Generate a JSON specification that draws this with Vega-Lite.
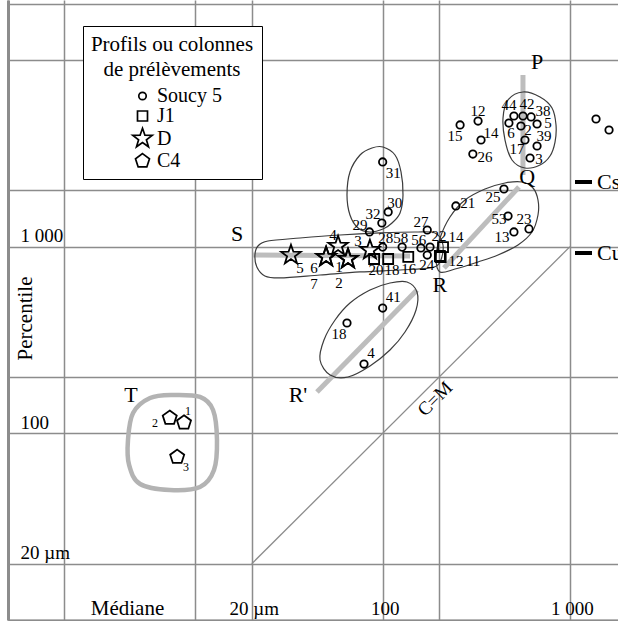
{
  "$schema": "https://vega.github.io/schema/vega-lite/v6.json",
  "width": 610,
  "height": 620,
  "autosize": {"type": "none"},
  "padding": {"left": 8, "top": 0, "right": 0, "bottom": 1},
  "background": "white",
  "config": {
    "view": {"stroke": null},
    "font": "Liberation Serif",
    "legend": {
      "padding": 8, "strokeColor": "black", "fillColor": "white",
      "titleFont": "Liberation Serif", "titleFontSize": 21, "titleFontWeight": "normal", "titleColor": "black",
      "titleAnchor": "middle", "titleAlign": "center", "titleLineHeight": 25, "titlePadding": 6,
      "labelFont": "Liberation Serif", "labelFontSize": 20, "labelColor": "black", "labelOffset": 3,
      "symbolStrokeColor": "black", "symbolFillColor": "white", "symbolStrokeWidth": 1.7, "symbolOffset": 10,
      "rowPadding": -2
    }
  },
  "datasets": {
    "pts": [
      {"profil":"Soucy 5","id":"44","x":502,"y":5012},
      {"profil":"Soucy 5","id":"42","x":561,"y":5012},
      {"profil":"Soucy 5","id":"38","x":620,"y":4955},
      {"profil":"Soucy 5","id":"6","x":472,"y":4594},
      {"profil":"Soucy 5","id":"2","x":547,"y":4430},
      {"profil":"Soucy 5","id":"5","x":667,"y":4540},
      {"profil":"Soucy 5","id":"17","x":575,"y":3727},
      {"profil":"Soucy 5","id":"39","x":667,"y":3461},
      {"profil":"Soucy 5","id":"3","x":612,"y":2985},
      {"profil":"Soucy 5","id":"12","x":323,"y":4710},
      {"profil":"Soucy 5","id":"15","x":259,"y":4487},
      {"profil":"Soucy 5","id":"14","x":335,"y":3727},
      {"profil":"Soucy 5","id":"26","x":303,"y":3135},
      {"profil":"Soucy 5","id":"","x":1377,"y":4830},
      {"profil":"Soucy 5","id":"","x":1616,"y":4217},
      {"profil":"Soucy 5","id":"31","x":100,"y":2843},
      {"profil":"Soucy 5","id":"30","x":107,"y":1534},
      {"profil":"Soucy 5","id":"32","x":99,"y":1339},
      {"profil":"Soucy 5","id":"29","x":85,"y":1199},
      {"profil":"Soucy 5","id":"27","x":173,"y":1228},
      {"profil":"Soucy 5","id":"21","x":246,"y":1652},
      {"profil":"Soucy 5","id":"25","x":444,"y":2037},
      {"profil":"Soucy 5","id":"53","x":467,"y":1459},
      {"profil":"Soucy 5","id":"13","x":502,"y":1199},
      {"profil":"Soucy 5","id":"23","x":604,"y":1245},
      {"profil":"Soucy 5","id":"28","x":100,"y":995},
      {"profil":"Soucy 5","id":"58","x":127,"y":995},
      {"profil":"Soucy 5","id":"56","x":160,"y":984},
      {"profil":"Soucy 5","id":"22","x":179,"y":995},
      {"profil":"Soucy 5","id":"24","x":173,"y":902},
      {"profil":"Soucy 5","id":"41","x":100,"y":469},
      {"profil":"Soucy 5","id":"18","x":64.5,"y":390},
      {"profil":"Soucy 5","id":"4","x":79.5,"y":235},
      {"profil":"J1","id":"20","x":90,"y":859},
      {"profil":"J1","id":"18","x":107,"y":859},
      {"profil":"J1","id":"16","x":137,"y":881},
      {"profil":"J1","id":"14","x":210,"y":995},
      {"profil":"J1","id":"12","x":202,"y":891},
      {"profil":"J1","id":"11","x":204,"y":880},
      {"profil":"D","id":"5","x":32.4,"y":902},
      {"profil":"D","id":"6","x":49.9,"y":881},
      {"profil":"D","id":"7","x":49.9,"y":881},
      {"profil":"D","id":"4","x":57.8,"y":1009},
      {"profil":"D","id":"1","x":65.3,"y":860},
      {"profil":"D","id":"2","x":65.3,"y":860},
      {"profil":"D","id":"3","x":85.5,"y":960},
      {"profil":"C4","id":"2","x":7.3,"y":121},
      {"profil":"C4","id":"1","x":8.7,"y":114},
      {"profil":"C4","id":"3","x":8.0,"y":74.7}
    ],
    "labels": [
      {"t":"44","x":472,"y":5741},{"t":"42","x":590,"y":5812},{"t":"38","x":718,"y":5331},
      {"t":"5","x":763,"y":4597},{"t":"6","x":484,"y":4063},{"t":"2","x":597,"y":4217},
      {"t":"39","x":727,"y":3915},{"t":"17","x":521,"y":3336},{"t":"3","x":683,"y":2948},
      {"t":"12","x":323,"y":5331},{"t":"15","x":243,"y":3915},{"t":"14","x":379,"y":4063},
      {"t":"26","x":352,"y":3022},{"t":"31","x":114,"y":2481},{"t":"30","x":116,"y":1713},
      {"t":"32","x":88.8,"y":1496},{"t":"29","x":75.7,"y":1306},{"t":"27","x":160,"y":1356},
      {"t":"21","x":285,"y":1713},{"t":"25","x":388,"y":1845},{"t":"53","x":418,"y":1407},
      {"t":"13","x":434,"y":1127},{"t":"23","x":568,"y":1407},{"t":"28","x":104,"y":1113},
      {"t":"58","x":125,"y":1113},{"t":"56","x":156,"y":1086},{"t":"22","x":200,"y":1141},
      {"t":"14","x":246,"y":1127},{"t":"24","x":172,"y":797},{"t":"12","x":246,"y":838},
      {"t":"11","x":304,"y":838},{"t":"20","x":92,"y":750},{"t":"18","x":112,"y":750},
      {"t":"16","x":138,"y":759},{"t":"41","x":114,"y":538},{"t":"18","x":58.5,"y":340},
      {"t":"4","x":86.6,"y":269},{"t":"5","x":36.2,"y":769},{"t":"6","x":43,"y":769},
      {"t":"7","x":43,"y":631},{"t":"1","x":58.5,"y":778},{"t":"2","x":58.5,"y":639},
      {"t":"3","x":73.9,"y":1072},{"t":"4","x":54.3,"y":1155}
    ],
    "plabels": [
      {"t":"2","x":6.09,"y":113.6},{"t":"1","x":9.14,"y":131.7},{"t":"3","x":8.92,"y":66.0}
    ],
    "letters": [
      {"t":"P","x":667,"y":9757},{"t":"Q","x":590,"y":2362},{"t":"S","x":16.7,"y":1169},
      {"t":"R","x":202,"y":623},{"t":"R'","x":35.3,"y":160.5},{"t":"T","x":4.53,"y":160.5}
    ],
    "cm": [{"t":"C=M","x":190,"y":153}],
    "cmline": [{"i":0,"x":20,"y":20},{"i":1,"x":1000,"y":1000}],
    "refs": [{"t":"Cs","x":1063,"x2":1311,"y":2220},{"t":"Cu","x":1063,"x2":1311,"y":925}],
    "reftext": [{"t":"Cs","x":1394,"y":2220},{"t":"Cu","x":1394,"y":925}],
    "trends": [
      {"seg":"PQ","i":0,"x":561,"y":8310},{"seg":"PQ","i":1,"x":561,"y":2421},
      {"seg":"QR","i":0,"x":534,"y":2087},{"seg":"QR","i":1,"x":212.5,"y":769},
      {"seg":"RS","i":0,"x":20.3,"y":902},{"seg":"RS","i":1,"x":140,"y":891},
      {"seg":"Rp","i":0,"x":44.6,"y":166.5},{"seg":"Rp","i":1,"x":152.5,"y":586}
    ],
    "loops": [
      {"loop":"S","i":0,"x":20.8,"y":902},{"loop":"S","i":1,"x":21.6,"y":1008},{"loop":"S","i":2,"x":24.4,"y":1072},
      {"loop":"S","i":3,"x":36.2,"y":1113},{"loop":"S","i":4,"x":59.2,"y":1155},{"loop":"S","i":5,"x":96.8,"y":1184},
      {"loop":"S","i":6,"x":148.8,"y":1198},{"loop":"S","i":7,"x":190.3,"y":1184},{"loop":"S","i":8,"x":209.9,"y":1021},
      {"loop":"S","i":9,"x":202.4,"y":828},{"loop":"S","i":10,"x":178.9,"y":769},{"loop":"S","i":11,"x":123.8,"y":750},
      {"loop":"S","i":12,"x":75.7,"y":732},{"loop":"S","i":13,"x":46.3,"y":705},{"loop":"S","i":14,"x":28.3,"y":680},
      {"loop":"S","i":15,"x":23.5,"y":697},{"loop":"S","i":16,"x":21.3,"y":778},
      {"loop":"A","i":0,"x":100.4,"y":3419},{"loop":"A","i":1,"x":116.4,"y":3097},{"loop":"A","i":2,"x":125.3,"y":2512},
      {"loop":"A","i":3,"x":128.4,"y":1891},{"loop":"A","i":4,"x":123.8,"y":1515},{"loop":"A","i":5,"x":112.2,"y":1339},
      {"loop":"A","i":6,"x":100.4,"y":1243},{"loop":"A","i":7,"x":85.6,"y":1198},{"loop":"A","i":8,"x":73.9,"y":1259},
      {"loop":"A","i":9,"x":66.9,"y":1478},{"loop":"A","i":10,"x":64.5,"y":1891},{"loop":"A","i":11,"x":66.9,"y":2512},
      {"loop":"A","i":12,"x":75.7,"y":3097},{"loop":"A","i":13,"x":87.7,"y":3377},
      {"loop":"P","i":0,"x":561.3,"y":6737},{"loop":"P","i":1,"x":691.6,"y":6334},{"loop":"P","i":2,"x":801.7,"y":5530},
      {"loop":"P","i":3,"x":842.1,"y":4485},{"loop":"P","i":4,"x":831.8,"y":3636},{"loop":"P","i":5,"x":782.1,"y":3059},
      {"loop":"P","i":6,"x":691.6,"y":2738},{"loop":"P","i":7,"x":575.4,"y":2638},{"loop":"P","i":8,"x":490.2,"y":2913},
      {"loop":"P","i":9,"x":449.9,"y":3727},{"loop":"P","i":10,"x":439.0,"y":4890},{"loop":"P","i":11,"x":466.9,"y":6106},
      {"loop":"R","i":0,"x":202.4,"y":732},{"loop":"R","i":1,"x":192.6,"y":870},{"loop":"R","i":2,"x":202.4,"y":1113},
      {"loop":"R","i":3,"x":228.8,"y":1442},{"loop":"R","i":4,"x":275.2,"y":1778},{"loop":"R","i":5,"x":351.8,"y":2036},
      {"loop":"R","i":6,"x":449.9,"y":2193},{"loop":"R","i":7,"x":554.4,"y":2220},{"loop":"R","i":8,"x":634.6,"y":2062},
      {"loop":"R","i":9,"x":674.8,"y":1778},{"loop":"R","i":10,"x":674.8,"y":1478},{"loop":"R","i":11,"x":626.9,"y":1198},
      {"loop":"R","i":12,"x":527.8,"y":1021},{"loop":"R","i":13,"x":412.8,"y":902},{"loop":"R","i":14,"x":322.8,"y":828},
      {"loop":"R","i":15,"x":243.3,"y":759},
      {"loop":"Rp","i":0,"x":134.9,"y":646.7},{"loop":"Rp","i":1,"x":152.5,"y":571.6},{"loop":"Rp","i":2,"x":150.7,"y":457.9},
      {"loop":"Rp","i":3,"x":131.6,"y":348.9},{"loop":"Rp","i":4,"x":109.4,"y":279.5},{"loop":"Rp","i":5,"x":85.6,"y":229.5},
      {"loop":"Rp","i":6,"x":65.3,"y":200.4},{"loop":"Rp","i":7,"x":52.4,"y":205.4},{"loop":"Rp","i":8,"x":46.3,"y":247.1},
      {"loop":"Rp","i":9,"x":48.6,"y":316.2},{"loop":"Rp","i":10,"x":55.7,"y":404.6},{"loop":"Rp","i":11,"x":66.9,"y":499.0},
      {"loop":"Rp","i":12,"x":85.6,"y":586.0},{"loop":"Rp","i":13,"x":109.4,"y":638.9}
    ],
    "tloop": [
      {"i":0,"x":7.60,"y":160.5},{"i":1,"x":10.59,"y":156.6},{"i":2,"x":12.43,"y":133.4},{"i":3,"x":13.05,"y":92.1},
      {"i":4,"x":12.58,"y":63.6},{"i":5,"x":10.59,"y":51.6},{"i":6,"x":7.32,"y":49.7},{"i":7,"x":5.07,"y":53.5},
      {"i":8,"x":4.43,"y":67.7},{"i":9,"x":4.37,"y":92.1},{"i":10,"x":4.65,"y":128.5},{"i":11,"x":5.73,"y":154.6}
    ]
  },
  "encoding": {
    "x": {
      "field": "x", "type": "quantitative",
      "scale": {"type": "log", "domain": [1, 1804], "nice": false},
      "axis": {
        "title": "Médiane", "titleX": 119, "titleY": -12, "titleFont": "Liberation Serif", "titleFontSize": 21,
        "titleFontWeight": "normal", "titleColor": "black", "titleBaseline": "middle", "titleAlign": "center", "titleAngle": 0,
        "values": [1, 2, 10, 20, 100, 200, 1000],
        "grid": true, "gridColor": "#8c8c8c", "gridWidth": 1.5, "gridOpacity": 1,
        "ticks": false, "tickSize": 0,
        "domain": true, "domainColor": "#8c8c8c", "domainWidth": 2,
        "labelExpr": "datum.value == 20 ? '20 µm' : datum.value == 100 ? '100' : datum.value == 1000 ? '1 000' : ''",
        "labelFont": "Liberation Serif", "labelFontSize": 19, "labelColor": "black",
        "labelPadding": -6, "labelBaseline": "alphabetic", "labelAlign": "center", "labelOffset": 2,
        "labelFlush": false, "labelOverlap": false, "labelBound": false
      }
    },
    "y": {
      "field": "y", "type": "quantitative",
      "scale": {"type": "log", "domain": [10, 20960], "nice": false},
      "axis": {
        "title": "Percentile", "titleX": 17, "titleY": 318, "titleFont": "Liberation Serif", "titleFontSize": 21,
        "titleFontWeight": "normal", "titleColor": "black", "titleBaseline": "middle", "titleAlign": "center", "titleAngle": 270,
        "values": [10, 20, 100, 200, 1000, 2000, 10000, 20000],
        "grid": true, "gridColor": "#8c8c8c", "gridWidth": 1.5, "gridOpacity": 1,
        "ticks": false, "tickSize": 0,
        "domain": true, "domainColor": "#8c8c8c", "domainWidth": 3,
        "labelExpr": "datum.value == 20 ? '20 µm' : datum.value == 100 ? '100' : datum.value == 1000 ? '1 000' : ''",
        "labelFont": "Liberation Serif", "labelFontSize": 19, "labelColor": "black",
        "labelPadding": -12, "labelBaseline": "alphabetic", "labelAlign": "left", "labelOffset": -5,
        "labelFlush": false, "labelOverlap": false, "labelBound": false
      }
    }
  },
  "layer": [
    {
      "data": {"name": "tloop"},
      "mark": {"type": "line", "interpolate": "cardinal-closed", "stroke": "#b3b3b3", "strokeWidth": 4.5},
      "encoding": {"order": {"field": "i", "type": "quantitative"}}
    },
    {
      "data": {"name": "trends"},
      "mark": {"type": "line", "stroke": "#bdbdbd", "strokeWidth": 5, "strokeCap": "butt"},
      "encoding": {"detail": {"field": "seg"}, "order": {"field": "i", "type": "quantitative"}}
    },
    {
      "data": {"name": "loops"},
      "mark": {"type": "line", "interpolate": "cardinal-closed", "stroke": "#3c3c3c", "strokeWidth": 1.2},
      "encoding": {"detail": {"field": "loop"}, "order": {"field": "i", "type": "quantitative"}}
    },
    {
      "data": {"name": "cmline"},
      "mark": {"type": "line", "stroke": "#8c8c8c", "strokeWidth": 1.3},
      "encoding": {"order": {"field": "i", "type": "quantitative"}}
    },
    {
      "data": {"name": "refs"},
      "mark": {"type": "rule", "color": "black", "strokeWidth": 4},
      "encoding": {"x2": {"field": "x2"}}
    },
    {
      "data": {"name": "pts"},
      "mark": {"type": "point", "filled": false, "color": "black", "strokeWidth": 1.8, "opacity": 1},
      "encoding": {
        "shape": {
          "field": "profil", "type": "nominal",
          "scale": {"domain": ["Soucy 5", "J1", "D", "C4"],
                    "range": ["circle", "square",
                              "M0,-1L0.235,-0.324L0.951,-0.309L0.38,0.124L0.588,0.809L0,0.4L-0.588,0.809L-0.38,0.124L-0.951,-0.309L-0.235,-0.324Z",
                              "M0,-1L0.951,-0.309L0.588,0.809L-0.588,0.809L-0.951,-0.309Z"]},
          "legend": {
            "title": ["Profils ou colonnes", "de prélèvements"],
            "orient": "none", "legendX": 75, "legendY": 26,
            "symbolOffset": 10, "labelOffset": 3
          }
        },
        "size": {
          "field": "profil", "type": "nominal",
          "scale": {"type": "ordinal", "domain": ["Soucy 5", "J1", "D", "C4"], "range": [55, 100, 420, 217]},
          "legend": {
            "title": ["Profils ou colonnes", "de prélèvements"],
            "orient": "none", "legendX": 75, "legendY": 26,
            "symbolOffset": 10, "labelOffset": 3
          }
        }
      }
    },
    {
      "data": {"name": "labels"},
      "mark": {"type": "text", "font": "Liberation Serif", "fontSize": 15, "color": "black", "align": "center", "baseline": "middle"},
      "encoding": {"text": {"field": "t"}}
    },
    {
      "data": {"name": "plabels"},
      "mark": {"type": "text", "font": "Liberation Serif", "fontSize": 12, "color": "black", "align": "center", "baseline": "middle"},
      "encoding": {"text": {"field": "t"}}
    },
    {
      "data": {"name": "letters"},
      "mark": {"type": "text", "font": "Liberation Serif", "fontSize": 22, "color": "black", "align": "center", "baseline": "middle"},
      "encoding": {"text": {"field": "t"}}
    },
    {
      "data": {"name": "cm"},
      "mark": {"type": "text", "font": "Liberation Serif", "fontSize": 19, "color": "black", "align": "center", "baseline": "middle", "angle": -45},
      "encoding": {"text": {"field": "t"}}
    },
    {
      "data": {"name": "reftext"},
      "mark": {"type": "text", "font": "Liberation Serif", "fontSize": 22, "color": "black", "align": "left", "baseline": "middle"},
      "encoding": {"text": {"field": "t"}}
    }
  ]
}
